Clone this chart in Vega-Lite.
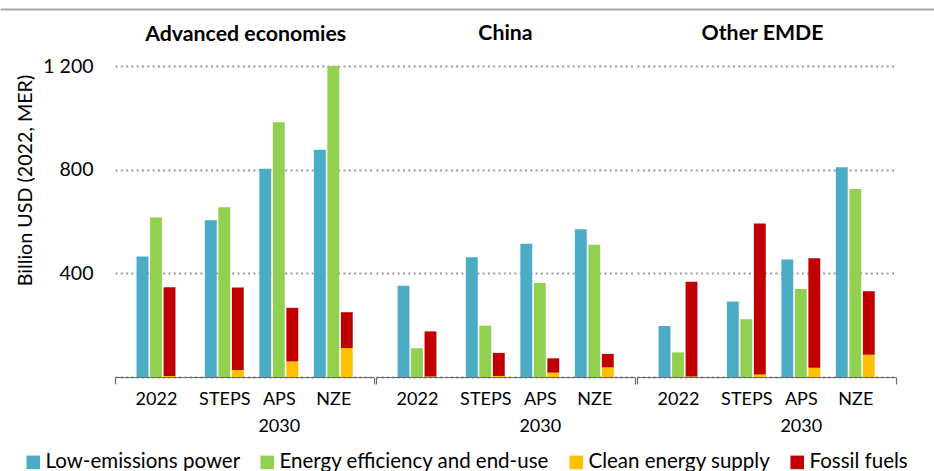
{
  "$schema": "https://vega.github.io/schema/vega-lite/v6.json",
  "padding": {"left": 0, "top": 9, "right": 0, "bottom": 0},
  "background": "white",
  "datasets": {
    "inv": [
      {"region": "Advanced economies", "period": "2022", "scenario": "2022", "bar": "power", "category": "Low-emissions power", "value": 465},
      {"region": "Advanced economies", "period": "2022", "scenario": "2022", "bar": "efficiency", "category": "Energy efficiency and end-use", "value": 615},
      {"region": "Advanced economies", "period": "2022", "scenario": "2022", "bar": "supply", "category": "Clean energy supply", "value": 4},
      {"region": "Advanced economies", "period": "2022", "scenario": "2022", "bar": "supply", "category": "Fossil fuels", "value": 342},
      {"region": "Advanced economies", "period": "2030", "scenario": "STEPS", "bar": "power", "category": "Low-emissions power", "value": 605},
      {"region": "Advanced economies", "period": "2030", "scenario": "STEPS", "bar": "efficiency", "category": "Energy efficiency and end-use", "value": 655},
      {"region": "Advanced economies", "period": "2030", "scenario": "STEPS", "bar": "supply", "category": "Clean energy supply", "value": 27},
      {"region": "Advanced economies", "period": "2030", "scenario": "STEPS", "bar": "supply", "category": "Fossil fuels", "value": 318},
      {"region": "Advanced economies", "period": "2030", "scenario": "APS", "bar": "power", "category": "Low-emissions power", "value": 804},
      {"region": "Advanced economies", "period": "2030", "scenario": "APS", "bar": "efficiency", "category": "Energy efficiency and end-use", "value": 983},
      {"region": "Advanced economies", "period": "2030", "scenario": "APS", "bar": "supply", "category": "Clean energy supply", "value": 60},
      {"region": "Advanced economies", "period": "2030", "scenario": "APS", "bar": "supply", "category": "Fossil fuels", "value": 207},
      {"region": "Advanced economies", "period": "2030", "scenario": "NZE", "bar": "power", "category": "Low-emissions power", "value": 877},
      {"region": "Advanced economies", "period": "2030", "scenario": "NZE", "bar": "efficiency", "category": "Energy efficiency and end-use", "value": 1200},
      {"region": "Advanced economies", "period": "2030", "scenario": "NZE", "bar": "supply", "category": "Clean energy supply", "value": 112},
      {"region": "Advanced economies", "period": "2030", "scenario": "NZE", "bar": "supply", "category": "Fossil fuels", "value": 138},
      {"region": "China", "period": "2022", "scenario": "2022", "bar": "power", "category": "Low-emissions power", "value": 352},
      {"region": "China", "period": "2022", "scenario": "2022", "bar": "efficiency", "category": "Energy efficiency and end-use", "value": 111},
      {"region": "China", "period": "2022", "scenario": "2022", "bar": "supply", "category": "Clean energy supply", "value": 2},
      {"region": "China", "period": "2022", "scenario": "2022", "bar": "supply", "category": "Fossil fuels", "value": 174},
      {"region": "China", "period": "2030", "scenario": "STEPS", "bar": "power", "category": "Low-emissions power", "value": 462},
      {"region": "China", "period": "2030", "scenario": "STEPS", "bar": "efficiency", "category": "Energy efficiency and end-use", "value": 198},
      {"region": "China", "period": "2030", "scenario": "STEPS", "bar": "supply", "category": "Clean energy supply", "value": 4},
      {"region": "China", "period": "2030", "scenario": "STEPS", "bar": "supply", "category": "Fossil fuels", "value": 89},
      {"region": "China", "period": "2030", "scenario": "APS", "bar": "power", "category": "Low-emissions power", "value": 514},
      {"region": "China", "period": "2030", "scenario": "APS", "bar": "efficiency", "category": "Energy efficiency and end-use", "value": 363},
      {"region": "China", "period": "2030", "scenario": "APS", "bar": "supply", "category": "Clean energy supply", "value": 17},
      {"region": "China", "period": "2030", "scenario": "APS", "bar": "supply", "category": "Fossil fuels", "value": 55},
      {"region": "China", "period": "2030", "scenario": "NZE", "bar": "power", "category": "Low-emissions power", "value": 570},
      {"region": "China", "period": "2030", "scenario": "NZE", "bar": "efficiency", "category": "Energy efficiency and end-use", "value": 510},
      {"region": "China", "period": "2030", "scenario": "NZE", "bar": "supply", "category": "Clean energy supply", "value": 37},
      {"region": "China", "period": "2030", "scenario": "NZE", "bar": "supply", "category": "Fossil fuels", "value": 52},
      {"region": "Other EMDE", "period": "2022", "scenario": "2022", "bar": "power", "category": "Low-emissions power", "value": 197},
      {"region": "Other EMDE", "period": "2022", "scenario": "2022", "bar": "efficiency", "category": "Energy efficiency and end-use", "value": 95},
      {"region": "Other EMDE", "period": "2022", "scenario": "2022", "bar": "supply", "category": "Clean energy supply", "value": 2},
      {"region": "Other EMDE", "period": "2022", "scenario": "2022", "bar": "supply", "category": "Fossil fuels", "value": 366},
      {"region": "Other EMDE", "period": "2030", "scenario": "STEPS", "bar": "power", "category": "Low-emissions power", "value": 291},
      {"region": "Other EMDE", "period": "2030", "scenario": "STEPS", "bar": "efficiency", "category": "Energy efficiency and end-use", "value": 223},
      {"region": "Other EMDE", "period": "2030", "scenario": "STEPS", "bar": "supply", "category": "Clean energy supply", "value": 10},
      {"region": "Other EMDE", "period": "2030", "scenario": "STEPS", "bar": "supply", "category": "Fossil fuels", "value": 582},
      {"region": "Other EMDE", "period": "2030", "scenario": "APS", "bar": "power", "category": "Low-emissions power", "value": 453},
      {"region": "Other EMDE", "period": "2030", "scenario": "APS", "bar": "efficiency", "category": "Energy efficiency and end-use", "value": 340},
      {"region": "Other EMDE", "period": "2030", "scenario": "APS", "bar": "supply", "category": "Clean energy supply", "value": 36},
      {"region": "Other EMDE", "period": "2030", "scenario": "APS", "bar": "supply", "category": "Fossil fuels", "value": 422},
      {"region": "Other EMDE", "period": "2030", "scenario": "NZE", "bar": "power", "category": "Low-emissions power", "value": 809},
      {"region": "Other EMDE", "period": "2030", "scenario": "NZE", "bar": "efficiency", "category": "Energy efficiency and end-use", "value": 725},
      {"region": "Other EMDE", "period": "2030", "scenario": "NZE", "bar": "supply", "category": "Clean energy supply", "value": 86},
      {"region": "Other EMDE", "period": "2030", "scenario": "NZE", "bar": "supply", "category": "Fossil fuels", "value": 245}
    ]
  },
  "spacing": 12,
  "resolve": {"scale": {"x": "independent", "y": "independent", "xOffset": "independent"}},
  "vconcat": [
    {
      "width": 934,
      "height": 1,
      "data": {"values": []},
      "mark": {"type": "rule"},
      "encoding": {
        "x": {"field": "x", "type": "quantitative", "scale": {"domain": [0, 1]}, "axis": {"orient": "top", "position": -115, "labels": false, "ticks": false, "grid": false, "title": null, "domain": true, "domainColor": "#a6a6a6", "domainWidth": 2}}
      }
    },
    {
      "data": {"name": "inv"},
      "spacing": 0,
      "resolve": {"scale": {"x": "independent", "y": "independent", "xOffset": "independent"}},
      "hconcat": [
        {
          "title": {"text": "Advanced economies", "anchor": "middle", "dx": 50.5, "offset": 11.1},
          "spacing": 0,
          "resolve": {"scale": {"x": "independent", "y": "independent", "xOffset": "independent"}},
          "hconcat": [
            {
              "width": 68.4, "height": 311,
              "transform": [
                {"filter": "datum.region === 'Advanced economies' && datum.period === '2022'"},
                {"stack": "value", "groupby": ["scenario", "bar"], "sort": [{"field": "category", "order": "ascending"}], "as": ["v0", "v1"]}
              ],
              "mark": {"type": "bar"},
              "encoding": {
                "x": {"field": "scenario", "type": "nominal", "sort": null, "scale": {"paddingInner": 0, "paddingOuter": 0.3444, "align": 0.7437, "round": false}, "axis": {"title": null, "tickOffset": -41, "labelOffset": 41}},
                "xOffset": {"field": "bar", "type": "nominal", "sort": ["power", "efficiency", "supply"], "scale": {"paddingInner": 0.12, "paddingOuter": 0.06}},
                "y": {"field": "v1", "type": "quantitative", "scale": {"domain": [0, 1200], "nice": false}, "axis": {"values": [0, 400, 800, 1200], "labelExpr": "datum.value === 0 ? '' : replace(format(datum.value, ','), ',', ' ')", "labels": true, "labelFontSize": 19.5, "title": "Billion USD (2022, MER)", "titleFontSize": 19.7, "labelPadding": 22, "titlePadding": 7, "titleY": 114}},
                "y2": {"field": "v0"},
                "color": {"field": "category", "type": "nominal", "title": null, "scale": {"domain": ["Low-emissions power", "Energy efficiency and end-use", "Clean energy supply", "Fossil fuels"], "range": ["#4BACC6", "#92D050", "#FFC000", "#C00000"]}}
              }
            },
            {
              "width": 189.6, "height": 311,
              "transform": [
                {"filter": "datum.region === 'Advanced economies' && datum.period === '2030'"},
                {"stack": "value", "groupby": ["scenario", "bar"], "sort": [{"field": "category", "order": "ascending"}], "as": ["v0", "v1"]}
              ],
              "mark": {"type": "bar"},
              "encoding": {
                "x": {"field": "scenario", "type": "nominal", "sort": ["STEPS", "APS", "NZE"], "scale": {"paddingInner": 0.2569, "paddingOuter": 0.3679, "round": false}, "axis": {"title": "2030", "tickOffset": 40.3, "labelOffset": -40.3, "tickOpacity": {"condition": {"test": "datum.value === 'NZE'", "value": 1}, "value": 0}}},
                "xOffset": {"field": "bar", "type": "nominal", "sort": ["power", "efficiency", "supply"], "scale": {"paddingInner": 0.12, "paddingOuter": 0.06}},
                "y": {"field": "v1", "type": "quantitative", "scale": {"domain": [0, 1200], "nice": false}, "axis": {"values": [0, 400, 800, 1200], "labels": false, "title": null}},
                "y2": {"field": "v0"},
                "color": {"field": "category", "type": "nominal", "title": null, "scale": {"domain": ["Low-emissions power", "Energy efficiency and end-use", "Clean energy supply", "Fossil fuels"], "range": ["#4BACC6", "#92D050", "#FFC000", "#C00000"]}}
              }
            }
          ]
        },
        {
          "title": {"text": "China", "anchor": "middle", "offset": 21.8},
          "spacing": 0,
          "resolve": {"scale": {"x": "independent", "y": "independent", "xOffset": "independent"}},
          "hconcat": [
            {
              "width": 68.4, "height": 311,
              "transform": [
                {"filter": "datum.region === 'China' && datum.period === '2022'"},
                {"stack": "value", "groupby": ["scenario", "bar"], "sort": [{"field": "category", "order": "ascending"}], "as": ["v0", "v1"]}
              ],
              "mark": {"type": "bar"},
              "encoding": {
                "x": {"field": "scenario", "type": "nominal", "sort": null, "scale": {"paddingInner": 0, "paddingOuter": 0.3444, "align": 0.7437, "round": false}, "axis": {"title": null, "tickOffset": -41, "labelOffset": 41}},
                "xOffset": {"field": "bar", "type": "nominal", "sort": ["power", "efficiency", "supply"], "scale": {"paddingInner": 0.12, "paddingOuter": 0.06}},
                "y": {"field": "v1", "type": "quantitative", "scale": {"domain": [0, 1200], "nice": false}, "axis": {"values": [0, 400, 800, 1200], "labels": false, "title": null}},
                "y2": {"field": "v0"},
                "color": {"field": "category", "type": "nominal", "title": null, "scale": {"domain": ["Low-emissions power", "Energy efficiency and end-use", "Clean energy supply", "Fossil fuels"], "range": ["#4BACC6", "#92D050", "#FFC000", "#C00000"]}}
              }
            },
            {
              "width": 189.6, "height": 311,
              "transform": [
                {"filter": "datum.region === 'China' && datum.period === '2030'"},
                {"stack": "value", "groupby": ["scenario", "bar"], "sort": [{"field": "category", "order": "ascending"}], "as": ["v0", "v1"]}
              ],
              "mark": {"type": "bar"},
              "encoding": {
                "x": {"field": "scenario", "type": "nominal", "sort": ["STEPS", "APS", "NZE"], "scale": {"paddingInner": 0.2569, "paddingOuter": 0.3679, "round": false}, "axis": {"title": "2030", "tickOffset": 40.3, "labelOffset": -40.3, "tickOpacity": {"condition": {"test": "datum.value === 'NZE'", "value": 1}, "value": 0}}},
                "xOffset": {"field": "bar", "type": "nominal", "sort": ["power", "efficiency", "supply"], "scale": {"paddingInner": 0.12, "paddingOuter": 0.06}},
                "y": {"field": "v1", "type": "quantitative", "scale": {"domain": [0, 1200], "nice": false}, "axis": {"values": [0, 400, 800, 1200], "labels": false, "title": null}},
                "y2": {"field": "v0"},
                "color": {"field": "category", "type": "nominal", "title": null, "scale": {"domain": ["Low-emissions power", "Energy efficiency and end-use", "Clean energy supply", "Fossil fuels"], "range": ["#4BACC6", "#92D050", "#FFC000", "#C00000"]}}
              }
            }
          ]
        },
        {
          "title": {"text": "Other EMDE", "anchor": "middle", "offset": 21.8, "dx": -4},
          "spacing": 0,
          "resolve": {"scale": {"x": "independent", "y": "independent", "xOffset": "independent"}},
          "hconcat": [
            {
              "width": 68.4, "height": 311,
              "transform": [
                {"filter": "datum.region === 'Other EMDE' && datum.period === '2022'"},
                {"stack": "value", "groupby": ["scenario", "bar"], "sort": [{"field": "category", "order": "ascending"}], "as": ["v0", "v1"]}
              ],
              "mark": {"type": "bar"},
              "encoding": {
                "x": {"field": "scenario", "type": "nominal", "sort": null, "scale": {"paddingInner": 0, "paddingOuter": 0.3444, "align": 0.7437, "round": false}, "axis": {"title": null, "tickOffset": -41, "labelOffset": 41}},
                "xOffset": {"field": "bar", "type": "nominal", "sort": ["power", "efficiency", "supply"], "scale": {"paddingInner": 0.12, "paddingOuter": 0.06}},
                "y": {"field": "v1", "type": "quantitative", "scale": {"domain": [0, 1200], "nice": false}, "axis": {"values": [0, 400, 800, 1200], "labels": false, "title": null}},
                "y2": {"field": "v0"},
                "color": {"field": "category", "type": "nominal", "title": null, "scale": {"domain": ["Low-emissions power", "Energy efficiency and end-use", "Clean energy supply", "Fossil fuels"], "range": ["#4BACC6", "#92D050", "#FFC000", "#C00000"]}}
              }
            },
            {
              "width": 189.6, "height": 311,
              "transform": [
                {"filter": "datum.region === 'Other EMDE' && datum.period === '2030'"},
                {"stack": "value", "groupby": ["scenario", "bar"], "sort": [{"field": "category", "order": "ascending"}], "as": ["v0", "v1"]}
              ],
              "mark": {"type": "bar"},
              "encoding": {
                "x": {"field": "scenario", "type": "nominal", "sort": ["STEPS", "APS", "NZE"], "scale": {"paddingInner": 0.2569, "paddingOuter": 0.3679, "round": false}, "axis": {"title": "2030", "tickOffset": 40.3, "labelOffset": -40.3, "tickOpacity": {"condition": {"test": "datum.value === 'NZE'", "value": 1}, "value": 0}}},
                "xOffset": {"field": "bar", "type": "nominal", "sort": ["power", "efficiency", "supply"], "scale": {"paddingInner": 0.12, "paddingOuter": 0.06}},
                "y": {"field": "v1", "type": "quantitative", "scale": {"domain": [0, 1200], "nice": false}, "axis": {"values": [0, 400, 800, 1200], "labels": false, "title": null}},
                "y2": {"field": "v0"},
                "color": {"field": "category", "type": "nominal", "title": null, "scale": {"domain": ["Low-emissions power", "Energy efficiency and end-use", "Clean energy supply", "Fossil fuels"], "range": ["#4BACC6", "#92D050", "#FFC000", "#C00000"]}}
              }
            }
          ]
        }
      ]
    }
  ],
  "config": {
    "font": "Lato",
    "view": {"stroke": null},
    "concat": {"spacing": 0},
    "axis": {"labelFont": "Lato", "labelFontSize": 18, "labelColor": "#000", "titleFont": "Lato", "titleFontSize": 18, "titleFontWeight": "normal", "titleColor": "#000"},
    "axisX": {"grid": false, "domainColor": "#6b6b6b", "domainWidth": 1.2, "tickColor": "#6b6b6b", "tickSize": 7, "tickWidth": 1.2, "labelPadding": 6, "labelAngle": 0, "titlePadding": 9},
    "axisY": {"grid": true, "gridDash": [2, 3.3], "gridColor": "#9a9a9a", "gridWidth": 1.8, "domain": false, "ticks": false},
    "legend": {"orient": "none", "legendX": -92, "legendY": 443, "direction": "horizontal", "labelFont": "Lato", "labelFontSize": 20.5, "labelColor": "#000", "labelLimit": 0, "symbolType": "square", "symbolSize": 185, "symbolStrokeWidth": 0, "symbolOpacity": 1, "columnPadding": 16, "labelOffset": 2, "padding": 0},
    "title": {"font": "Lato", "fontSize": 21.3, "fontWeight": "bold", "color": "#000"}
  }
}
